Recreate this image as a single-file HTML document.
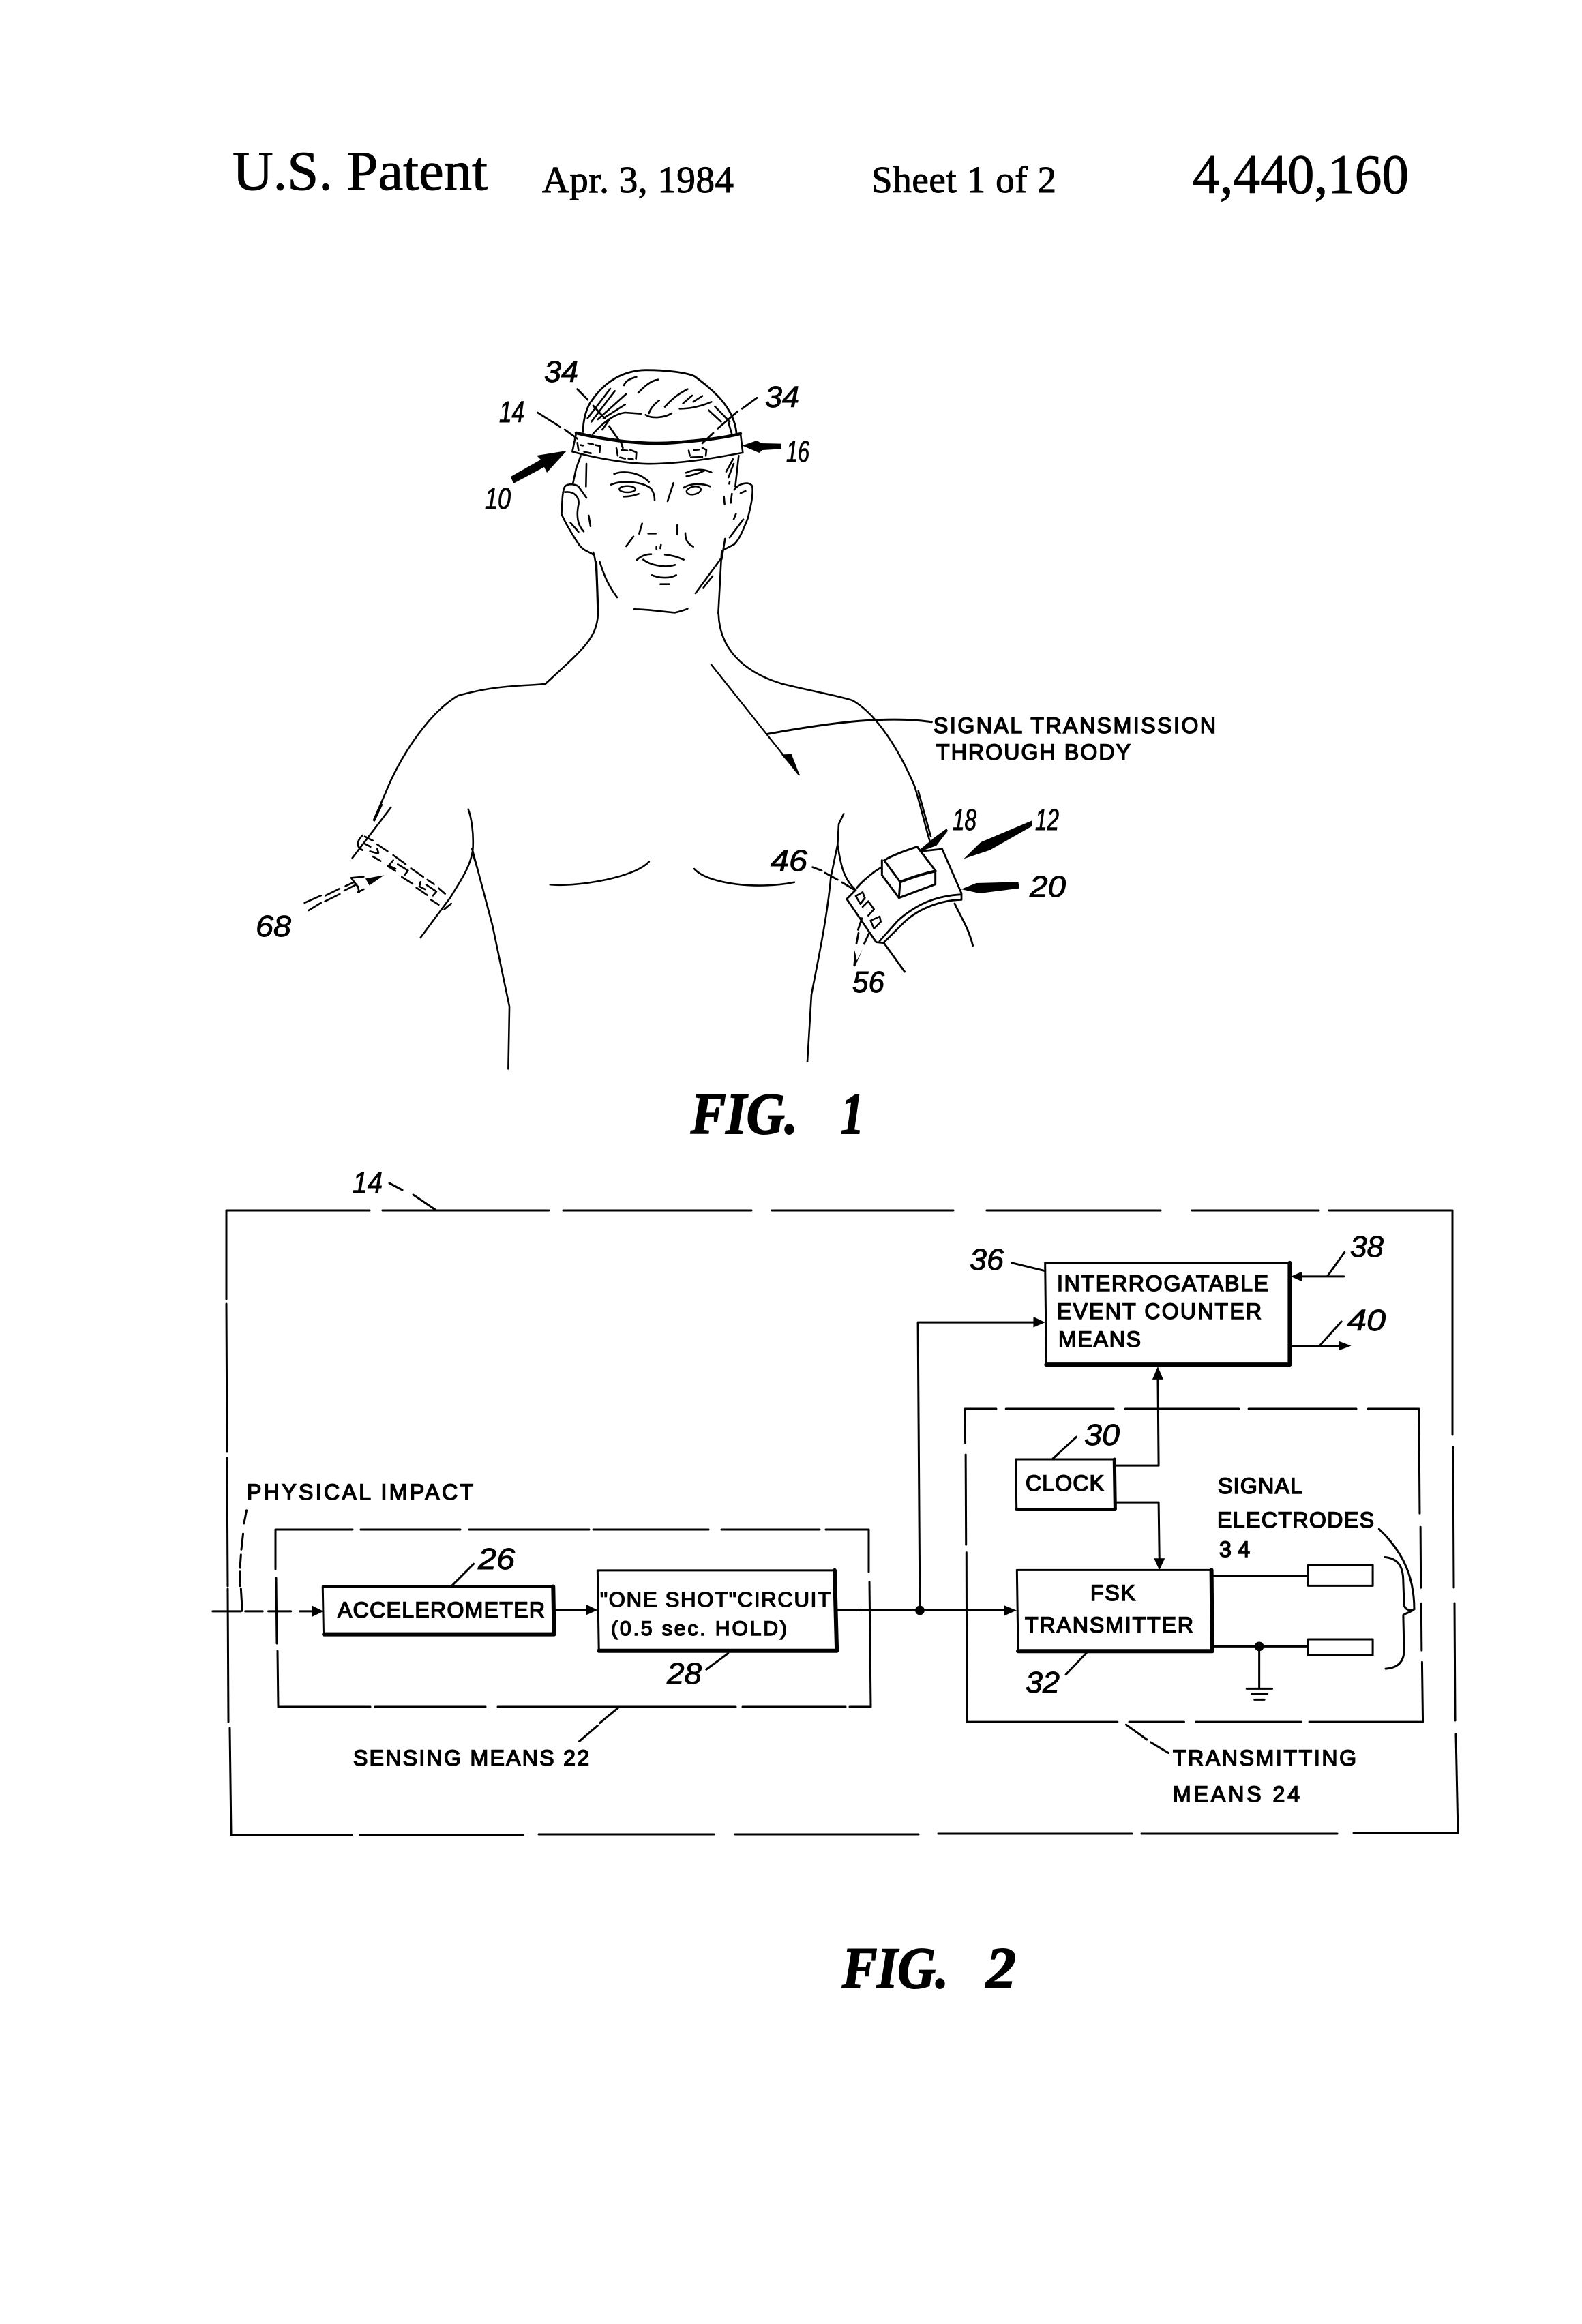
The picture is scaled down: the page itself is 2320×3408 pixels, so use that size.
<!DOCTYPE html>
<html><head><meta charset="utf-8"><style>
html,body{margin:0;padding:0;background:#fff}
svg{display:block}
.l path,.l line,.l rect,.l ellipse,.l polyline,.l circle{vector-effect:non-scaling-stroke;fill:none;stroke:#000;stroke-linecap:round;stroke-linejoin:round}
.l .f{fill:#000;stroke:none}
.t{font-family:"Liberation Sans",sans-serif;fill:#000;stroke:#000;stroke-width:1.5px}
.n{font-family:"Liberation Sans",sans-serif;font-style:italic;fill:#000;stroke:#000;stroke-width:.9px;font-size:44px}
.s{font-family:"Liberation Serif",serif;fill:#000;stroke:#000;stroke-width:1px}
.g{font-family:"Liberation Serif",serif;font-weight:bold;font-style:italic;fill:#000;stroke:#000;stroke-width:2px;font-size:86px}
</style></head><body>
<svg xmlns="http://www.w3.org/2000/svg" width="2320" height="3408" viewBox="0 0 2320 3408">
<rect width="2320" height="3408" fill="#fff"/>

<!-- header -->
<text class="s" x="341" y="278" font-size="82" textLength="374" lengthAdjust="spacingAndGlyphs">U.S. Patent</text>
<text class="s" x="795" y="282" font-size="55" textLength="281">Apr. 3, 1984</text>
<text class="s" x="1278" y="282" font-size="55" textLength="271">Sheet 1 of 2</text>
<text class="s" x="1749" y="283" font-size="82" textLength="317" lengthAdjust="spacingAndGlyphs">4,440,160</text>

<!-- head (zoom 4 coords) -->
<g class="l" transform="translate(780,500) scale(.33333)" stroke-width="2.6">
<path style="stroke-width:2.8px" d="M225 400C225 350 240 290 265 260C320 180 400 130 500 128C600 128 680 140 715 155C790 210 890 290 900 405"/>
<path style="stroke-width:4.5px" d="M195 405C350 440 500 460 650 445C760 437 850 425 918 408"/>
<path style="stroke-width:2.6px" d="M918 408L928 492M178 487C300 520 450 545 550 540C700 535 830 510 925 492M195 405L178 487"/>
<path style="stroke-width:2.6px" d="M215 505L195 560L180 630M240 540L238 640M205 640C190 630 160 625 145 640C130 670 135 730 130 760C150 810 190 870 210 900C230 925 260 930 270 940M145 665C190 660 210 690 205 720C195 770 200 810 228 838M170 800L205 840M205 640L240 690M250 768L258 815M270 930C285 970 285 1040 290 1200M298 970C320 1040 340 1080 375 1128M910 505L895 640M890 655C910 625 960 615 970 640C975 680 960 740 950 780C930 830 915 870 890 895L845 918M835 925L820 1200M850 870L835 960M830 960L720 1110M795 1035L755 1085M918 670L940 660M888 785L898 760M930 785L870 865M845 685L848 718M880 672L875 712M885 520L855 575M888 540L865 600M870 620L868 628"/>
<path style="stroke-width:2.6px" d="M362 585C400 570 470 575 515 620M348 632C400 610 490 620 525 650C540 675 540 690 540 700M405 685C430 685 450 680 470 673M678 580C710 565 750 560 790 578M680 595C710 590 740 580 760 570M668 645C700 625 750 625 785 640M623 625L597 705M485 803L472 848M447 860L415 903M512 847L545 847M640 810L640 850M675 845C675 880 690 895 710 905M548 905L548 915M568 897L565 912M460 965C480 945 505 938 525 938M585 940C610 942 640 950 668 962M490 962C520 985 580 1000 630 985M528 1030C560 1045 610 1045 635 1030M565 1070L605 1070M450 1180C520 1180 600 1195 630 1195C650 1190 670 1185 685 1178"/>
<ellipse style="stroke-width:2.4px" cx="420" cy="652" rx="35" ry="14"/>
<ellipse style="stroke-width:2.4px" cx="712" cy="658" rx="32" ry="17" transform="rotate(-12 712 658)"/>
<path style="stroke-width:2.6px" d="M245 340L345 210M262 355L365 220M290 345L415 233M315 340L410 280M268 410C320 350 370 320 410 315L480 320M310 390L345 340M405 195C415 170 440 165 460 158M468 228C490 205 520 175 555 170M515 318C520 300 540 275 560 262M500 325C530 345 590 335 615 318M585 290C620 250 650 230 685 212M665 275L705 240M710 268L750 242M650 298C700 298 750 285 790 268M778 305L832 355M805 288L870 355M865 360L880 410"/>
<path style="stroke-width:2.8px" d="M200 212L245 258M270 285L320 340M340 375L385 440M390 440L400 470M25 315L125 378M145 390L200 430M990 250L925 298M905 310L818 385M798 405L750 450"/>
<path style="stroke-width:2.6px" d="M200 448L205 480M215 458L225 460M248 450L270 455M280 458L300 462L298 490M230 488L260 494M372 472L378 505M395 480L420 482M430 478L460 490L458 518M388 512L410 518M425 518L445 520M690 482L695 505M712 480L735 478M750 470L768 480L765 505M700 512L750 510"/>
<path class="f" d="M925 460L990 438L1010 450L1098 452L1098 475L1015 480L1000 492Z"/>
</g>

<!-- arrow 10 -->
<path d="M831 661L787 668L793 674L749 699L753 709L798 685L802 693Z" fill="#000"/>

<!-- body (zoom1 coords) -->
<g class="l" transform="translate(500,480) scale(.829,.7015)">
<path style="stroke-width:2.6px" d="M452 490L455 590C455 650 430 670 362 745C340 750 280 745 207 770C150 810 100 910 80 970L58 1030"/>
<path style="stroke-width:2.6px" d="M668 600C670 670 710 720 780 745C830 760 880 770 905 780C950 810 990 890 1015 960C1030 1020 1035 1050 1042 1075"/>
<path style="stroke-width:2.6px" d="M232 1090L268 1250L298 1420L296 1550M370 1165C420 1170 520 1150 545 1117M625 1132C650 1165 740 1175 802 1160"/>
<path style="stroke-width:2.4px" d="M655 705L810 935"/>
<path style="stroke-width:3px" d="M755 850C850 830 960 810 1045 825"/>
<path class="f" d="M812 938L779 893L797 892Z"/>
</g>

<!-- left arm (zoom 9 coords) -->
<g class="l" transform="translate(350,1180) scale(.33333)">
<path style="stroke-width:2.6px" d="M670 12L500 235M630 0L597 70M1010 20C1025 60 1035 130 1030 200C1020 270 980 330 930 410L800 585M1028 210L1050 280"/>
<path style="stroke-width:2.6px" d="M555 140L590 158M610 175L655 205M680 222L735 262M758 280L812 318M830 330L860 350M880 368L908 392M590 228L625 248M655 270L690 292M718 318L765 348M782 365L830 398M845 418L880 440M545 135C520 160 515 185 545 200M555 172L580 185M578 205L612 215M610 195L615 212M680 245L660 268L690 282M700 262L745 290L730 310M800 340L795 360L820 372M825 352L870 382L855 400M905 460L935 435"/>
<path style="stroke-width:2.6px" d="M290 432L362 400M308 465L362 432M380 425L445 393M382 400L443 370M465 378L520 350M470 358L510 340M495 322L550 317M495 322L525 362M525 385L550 372M525 360L530 385"/>
<path class="f" d="M640 310L558 325L575 355Z"/>
</g>

<!-- right arm (zoom 5 coords) -->
<g class="l" transform="translate(1150,1160) scale(.33333)">
<path style="stroke-width:2.6px" d="M590 0L645 200M262 100L240 145L235 235C245 300 255 380 310 430M235 235L205 380C190 550 150 740 120 895"/>
<path style="stroke-width:3px" d="M440 305C480 280 540 260 585 245L665 350L665 410L505 470L430 370L430 305M440 305L510 400L505 470"/>
<path style="stroke-width:4px" d="M510 400C560 380 610 365 665 352"/>
<path style="stroke-width:2.8px" d="M320 425C350 390 400 350 430 335M600 265L695 255L780 450L780 478M780 455C680 460 590 490 500 570L420 660M780 478C700 480 600 510 530 575L440 665M275 475L315 435M275 475L405 665L435 668M440 670L530 795M750 495C780 560 810 600 830 680"/>
<path style="stroke-width:2.6px" d="M315 462L345 445L355 470L335 497L315 462M345 510L370 485L395 520L370 548M380 570L420 552L425 575L395 605L380 570"/>
<path style="stroke-width:2.8px" d="M125 335L165 350M180 360L235 390M255 402L310 435M342 560L325 610M327 625L318 670M375 622L352 672"/>
<path class="f" d="M345 695L312 772L304 770L310 700L320 745Z"/>
<path class="f" d="M600 255L660 205L715 165L720 175L670 240L610 262Z"/>
<path class="f" d="M790 298L865 225L1090 130L1090 155L905 260Z"/>
<path class="f" d="M778 432L845 405L1030 400L1035 428L860 450Z"/>
</g>
<path d="M1184 1557L1190 1458" stroke="#000" stroke-width="2.6" fill="none"/>

<!-- FIG 1 labels -->
<text class="n" x="798" y="560" textLength="50" lengthAdjust="spacingAndGlyphs">34</text>
<text class="n" x="1122" y="597" textLength="50" lengthAdjust="spacingAndGlyphs">34</text>
<text class="n" x="1153" y="677" textLength="34" lengthAdjust="spacingAndGlyphs">16</text>
<text class="n" x="732" y="619" textLength="37" lengthAdjust="spacingAndGlyphs">14</text>
<text class="n" x="711" y="746" textLength="38" lengthAdjust="spacingAndGlyphs">10</text>
<text class="n" x="1397" y="1217" textLength="35" lengthAdjust="spacingAndGlyphs">18</text>
<text class="n" x="1518" y="1217" textLength="35" lengthAdjust="spacingAndGlyphs">12</text>
<text class="n" x="1510" y="1315" textLength="53" lengthAdjust="spacingAndGlyphs">20</text>
<text class="n" x="1130" y="1277" textLength="54" lengthAdjust="spacingAndGlyphs">46</text>
<text class="n" x="1250" y="1455" textLength="47" lengthAdjust="spacingAndGlyphs">56</text>
<text class="n" x="375" y="1373" textLength="52" lengthAdjust="spacingAndGlyphs">68</text>
<text class="t" x="1369" y="1075" font-size="32" textLength="414">SIGNAL TRANSMISSION</text>
<text class="t" x="1373" y="1114" font-size="32" textLength="285">THROUGH BODY</text>
<text class="g" x="1013" y="1662" textLength="157" lengthAdjust="spacingAndGlyphs">FIG.</text>
<text class="g" x="1233" y="1662" textLength="34" lengthAdjust="spacingAndGlyphs">1</text>

<!-- FIG 2 frames (real coords) -->
<g class="l">
<path style="stroke-width:3px" d="M332 1775L542 1775M561 1775L805 1775M826 1775L1102 1775M1132 1775L1398 1775M1447 1775L1702 1775M1748 1775L1934 1775M1949 1775L2130 1775L2130 2104M2131 2122L2132 2328M2133 2351L2134 2523M2135 2543L2138 2688L1985 2688M1961 2689L1674 2689M1660 2689L1376 2689M1347 2690L1078 2690M1047 2690L790 2690M767 2691L528 2691M516 2691L339 2691L337 2534M335 2525L334 2330M334 2326L333 2138M333 2129L332 1912M332 1905L332 1775"/>
<path style="stroke-width:3px" d="M571 1735L590 1745M606 1752L640 1775"/>
<path style="stroke-width:3px" d="M404 2243L517 2243M529 2243L675 2243M688 2243L864 2243M870 2243L1039 2243M1058 2243L1202 2243M1211 2243L1274 2243L1274 2305M1275 2320L1277 2503L1246 2503M1240 2503L1089 2503M1079 2503L730 2503M712 2503L550 2503M543 2503L408 2503L407 2421M406 2410L405 2314M404 2301L404 2243"/>
</g>

<!-- FIG 2 left (zoom2 coords) -->
<g class="l" transform="translate(280,2100) scale(.6378,.3827)">
<path style="stroke-width:3px" d="M303 592L833 592M303 592L305 775"/>
<path style="stroke-width:6px" d="M306 775L835 775M833 592L835 775"/>
<path style="stroke-width:3px" d="M935 530L1480 530M935 530L938 838"/>
<path style="stroke-width:6px" d="M938 838L1485 838M1480 530L1485 838"/>
<path style="stroke-width:3px" d="M835 682L910 682M50 687L115 687M125 687L165 687M178 687L230 687M250 687L280 687"/>
<path class="f" d="M935 682L908 660L908 702Z"/>
<path class="f" d="M305 687L278 665L278 708Z"/>
<path style="stroke-width:3px" d="M128 300L122 350M120 390L116 450M115 470L113 520M113 535L113 590M115 600L118 685M598 592L650 505M1185 910L1235 848M985 1053L940 1115M935 1125L893 1185"/>
</g>
<path d="M1228 2361L1262 2361" stroke="#000" stroke-width="3" fill="none"/>

<!-- FIG 2 right (zoom3 coords) -->
<g class="l" transform="translate(1260,1760) scale(.574)">
<path style="stroke-width:3px" d="M270 533L350 533M375 533L650 533M680 533L970 533M995 533L1270 533M1300 533L1430 533L1432 800M1434 835L1435 990M1436 1030L1437 1150M1438 1180L1440 1333L1150 1333M1130 1333L860 1333M830 1333L690 1333M660 1333L275 1333L274 900M273 880L272 650M271 620L270 533"/>
<path style="stroke-width:3px" d="M475 160L1100 160M475 160L478 420"/>
<path style="stroke-width:6px" d="M478 420L1100 420M1100 160L1100 420"/>
<path style="stroke-width:3px" d="M400 662L652 662M400 662L402 790"/>
<path style="stroke-width:5px" d="M402 790L654 790M652 662L654 790"/>
<path style="stroke-width:3px" d="M403 945L900 945M403 945L406 1152"/>
<path style="stroke-width:6px" d="M406 1152L902 1152M900 945L902 1152"/>
<path style="stroke-width:3px" d="M1147 932L1312 932L1312 985L1147 985Z"/>
<path style="stroke-width:3px" d="M1147 1122L1312 1122L1312 1163L1147 1163Z"/>
<path style="stroke-width:3px" d="M370 1048L0 1048M155 1048L150 312L450 312M652 678L765 678L763 450M655 772L765 772L767 920M900 960L1147 960M900 1140L1147 1140M1022 1140L1022 1248M990 1248L1055 1248M1003 1262L1043 1262M1010 1276L1035 1276M1238 195L1125 195M1197 193L1240 133M1105 372L1230 372M1178 370L1232 310M390 160L472 180M495 660L555 605M528 1212L582 1155M682 1340L735 1378M745 1385L790 1412"/>
<path style="stroke-width:3px" d="M1328 840C1380 890 1418 950 1418 1045C1410 1052 1395 1056 1390 1060L1392 1150C1392 1180 1375 1195 1345 1197M1343 912C1380 915 1390 940 1390 975L1392 1030C1392 1048 1410 1050 1418 1045"/>
<circle class="f" cx="155" cy="1048" r="12"/>
<circle class="f" cx="1022" cy="1140" r="12"/>
<path class="f" d="M402 1048L370 1035L370 1062Z"/>
<path class="f" d="M475 312L445 298L445 325Z"/>
<path class="f" d="M763 425L749 458L777 458Z"/>
<path class="f" d="M767 945L753 915L781 915Z"/>
<path class="f" d="M1103 195L1132 182L1132 208Z"/>
<path class="f" d="M1257 372L1225 360L1225 384Z"/>
</g>

<!-- FIG 2 labels -->
<text class="n" x="517" y="1749" textLength="44" lengthAdjust="spacingAndGlyphs">14</text>
<text class="t" x="362" y="2199" font-size="32" textLength="332">PHYSICAL IMPACT</text>
<text class="t" x="495" y="2372" font-size="32" textLength="304">ACCELEROMETER</text>
<text class="t" x="880" y="2356" font-size="31" textLength="338">"ONE SHOT"CIRCUIT</text>
<text class="t" x="896" y="2398" font-size="30" textLength="258">(0.5 sec. HOLD)</text>
<text class="n" x="701" y="2301" textLength="54" lengthAdjust="spacingAndGlyphs">26</text>
<text class="n" x="978" y="2469" textLength="51" lengthAdjust="spacingAndGlyphs">28</text>
<text class="t" x="518" y="2589" font-size="32" textLength="346">SENSING MEANS 22</text>
<text class="n" x="1422" y="1862" textLength="50" lengthAdjust="spacingAndGlyphs">36</text>
<text class="t" x="1550" y="1893" font-size="32" textLength="310">INTERROGATABLE</text>
<text class="t" x="1550" y="1934" font-size="32" textLength="300">EVENT COUNTER</text>
<text class="t" x="1552" y="1975" font-size="32" textLength="121">MEANS</text>
<text class="n" x="1980" y="1843" textLength="49" lengthAdjust="spacingAndGlyphs">38</text>
<text class="n" x="1976" y="1951" textLength="56" lengthAdjust="spacingAndGlyphs">40</text>
<text class="n" x="1590" y="2119" textLength="52" lengthAdjust="spacingAndGlyphs">30</text>
<text class="t" x="1504" y="2186" font-size="32" textLength="115">CLOCK</text>
<text class="t" x="1786" y="2190" font-size="32" textLength="124">SIGNAL</text>
<text class="t" x="1785" y="2240" font-size="32" textLength="230">ELECTRODES</text>
<text class="t" x="1788" y="2283" font-size="32" textLength="45">34</text>
<text class="t" x="1599" y="2347" font-size="32" textLength="66">FSK</text>
<text class="t" x="1503" y="2394" font-size="32" textLength="247">TRANSMITTER</text>
<text class="n" x="1504" y="2482" textLength="50" lengthAdjust="spacingAndGlyphs">32</text>
<text class="t" x="1720" y="2589" font-size="32" textLength="269">TRANSMITTING</text>
<text class="t" x="1720" y="2642" font-size="32" textLength="186">MEANS 24</text>
<text class="g" x="1235" y="2915" textLength="156" lengthAdjust="spacingAndGlyphs">FIG.</text>
<text class="g" x="1446" y="2915" textLength="44" lengthAdjust="spacingAndGlyphs">2</text>
</svg>
</body></html>
